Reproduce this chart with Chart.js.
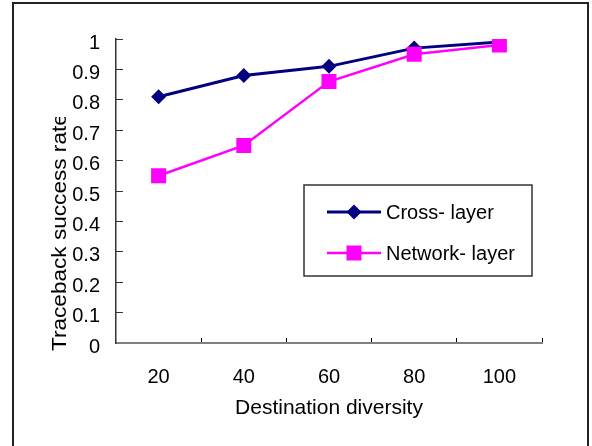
<!DOCTYPE html>
<html>
<head>
<meta charset="utf-8">
<script src="https://cdn.jsdelivr.net/npm/chart.js@4/dist/chart.umd.min.js"></script>
<style>
  html, body { margin: 0; padding: 0; background: #fff; }
</style>
</head>
<body>
<canvas id="mychart" width="592" height="446"></canvas>
<script>
const categories = ['20', '40', '60', '80', '100'];
const crossLayer = [0.81, 0.88, 0.91, 0.97, 0.99];
const networkLayer = [0.55, 0.65, 0.86, 0.95, 0.98];
const seriesNames = ['Cross- layer', 'Network- layer'];
const seriesColors = ['#000080', '#ff00ff'];
const xTitle = 'Destination diversity';
const yTitle = 'Traceback success rate';

const fontFamily = '"Liberation Sans", Arial, sans-serif';

// white page + outer frame (bottom edge is off the picture)
const framePlugin = {
  id: 'frame',
  beforeDraw(chart) {
    const ctx = chart.ctx;
    ctx.save();
    ctx.fillStyle = '#fff';
    ctx.fillRect(0, 0, chart.width, chart.height);
    ctx.strokeStyle = '#222';
    ctx.lineWidth = 2;
    ctx.strokeRect(13, 3, 575, 460);
    ctx.restore();
  }
};

// y title: stretched along its length and cut off at the top like the original
const yTitlePlugin = {
  id: 'yTitle',
  afterDraw(chart) {
    const ctx = chart.ctx;
    ctx.save();
    ctx.beginPath();
    ctx.rect(30, 117, 50, 260);
    ctx.clip();
    ctx.translate(60, 351);
    ctx.rotate(-Math.PI / 2);
    ctx.scale(1.13, 1);
    ctx.font = '20px ' + fontFamily;
    ctx.fillStyle = '#000';
    ctx.textAlign = 'left';
    ctx.textBaseline = 'middle';
    ctx.fillText(yTitle, 0, 0);
    ctx.restore();
  }
};

function drawMarker(ctx, style, x, y, color) {
  ctx.fillStyle = color;
  ctx.beginPath();
  if (style === 'rectRot') {
    const r = 7.5;
    ctx.moveTo(x - r, y);
    ctx.lineTo(x, y - r);
    ctx.lineTo(x + r, y);
    ctx.lineTo(x, y + r);
    ctx.closePath();
  } else {
    ctx.rect(x - 7.5, y - 7.5, 15, 15);
  }
  ctx.fill();
}

const legendPlugin = {
  id: 'boxLegend',
  afterDraw(chart) {
    const ctx = chart.ctx;
    ctx.save();
    ctx.fillStyle = '#fff';
    ctx.fillRect(304, 185, 228, 91);
    ctx.strokeStyle = '#333';
    ctx.lineWidth = 1.5;
    ctx.strokeRect(304, 185, 228, 91);
    const rows = [212, 253];
    chart.data.datasets.forEach((ds, i) => {
      const y = rows[i];
      ctx.strokeStyle = ds.borderColor;
      ctx.lineWidth = ds.borderWidth;
      ctx.beginPath();
      ctx.moveTo(327, y);
      ctx.lineTo(381, y);
      ctx.stroke();
      drawMarker(ctx, ds.pointStyle, 354, y, ds.backgroundColor);
      ctx.fillStyle = '#000';
      ctx.font = '20px ' + fontFamily;
      ctx.textAlign = 'left';
      ctx.textBaseline = 'middle';
      ctx.fillText(ds.label, 386, y + 1);
    });
    ctx.restore();
  }
};

const ctx = document.getElementById('mychart').getContext('2d');

new Chart(ctx, {
  type: 'line',
  data: {
    labels: categories,
    datasets: [
      {
        label: seriesNames[0],
        data: crossLayer,
        borderColor: seriesColors[0],
        backgroundColor: seriesColors[0],
        borderWidth: 3,
        pointStyle: 'rectRot',
        pointRadius: 7.5,
        pointBorderWidth: 0,
        order: 1,
      },
      {
        label: seriesNames[1],
        data: networkLayer,
        borderColor: seriesColors[1],
        backgroundColor: seriesColors[1],
        borderWidth: 2.5,
        pointStyle: 'rect',
        pointRadius: 10.6,
        pointBorderWidth: 0,
        order: 0,
      }
    ]
  },
  options: {
    responsive: false,
    animation: false,
    layout: { padding: { left: 13, top: 39, right: 50, bottom: 0 } },
    plugins: {
      legend: { display: false },
      tooltip: { enabled: false },
    },
    scales: {
      x: {
        offset: true,
        afterFit(scale) { scale.height = 103 },
        grid: {
          offset: true,
          drawOnChartArea: false,
          drawTicks: true,
          tickLength: -5,
          tickColor: '#000',
          tickWidth: 1,
        },
        border: { color: '#808080', width: 2 },
        ticks: {
          color: '#000',
          padding: 27,
          font: { family: fontFamily, size: 20 },
          maxRotation: 0,
        },
        title: {
          display: true,
          text: xTitle,
          color: '#000',
          font: { family: fontFamily, size: 21 },
          padding: { top: 0, bottom: 25 },
        },
      },
      y: {
        min: 0,
        max: 1,
        afterFit(scale) { scale.width = 103 },
        grid: {
          drawOnChartArea: false,
          drawTicks: true,
          tickLength: -7,
          tickColor: '#333',
          tickWidth: 1,
        },
        border: { color: '#333', width: 1.5 },
        ticks: {
          stepSize: 0.1,
          color: '#000',
          padding: 23,
          labelOffset: 4,
          font: { family: fontFamily, size: 20 },
          callback: (value) => String(Number(value.toFixed(1))),
        },
      }
    }
  },
  plugins: [framePlugin, yTitlePlugin, legendPlugin]
});
</script>
</body>
</html>
